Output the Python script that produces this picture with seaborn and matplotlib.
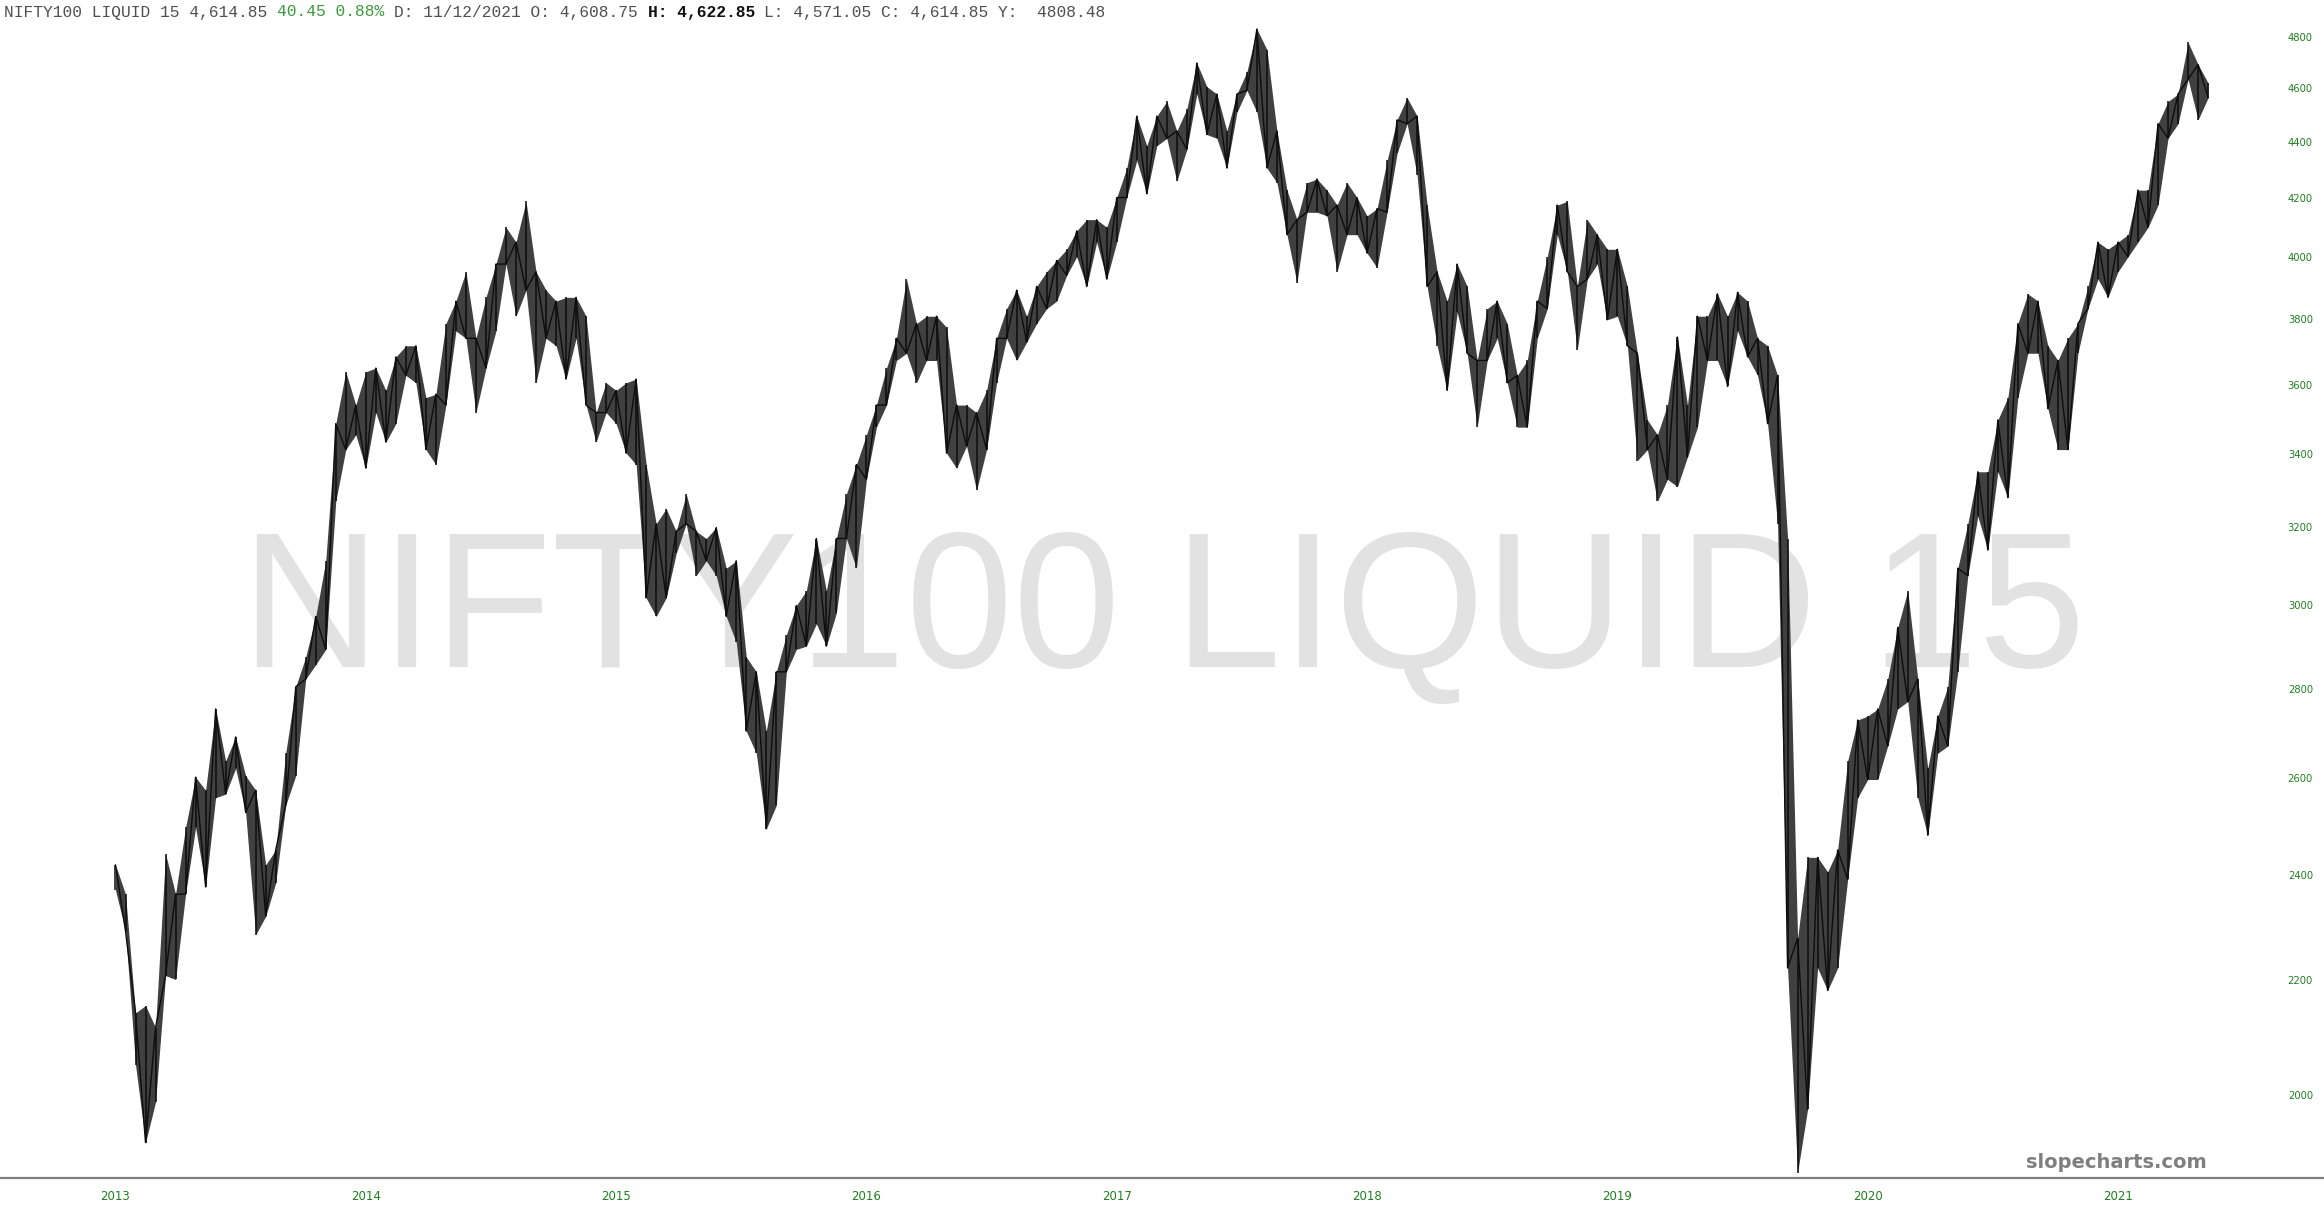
import numpy as np
import pandas as pd
import seaborn as sns
import matplotlib.pyplot as plt

# one bar roughly every two weeks, high / low
HIGH = [
    2420, 2362, 2141, 2154, 2115, 2442, 2362, 2496, 2602, 2574, 2753, 2637, 2690, 2605,
    2574, 2420, 2450, 2654, 2804, 2874, 2972, 3112, 3486, 3639, 3540, 3639, 3650, 3583,
    3684, 3718, 3718, 3562, 3572, 3787, 3858, 3953, 3741, 3870, 3978, 4101, 4051, 4190,
    3953, 3893, 3858, 3870, 3870, 3810, 3518, 3606, 3583, 3606, 3617, 3370, 3209, 3249,
    3189, 3289, 3189, 3170, 3199, 3093, 3112, 2874, 2839, 2703, 2839, 2927, 2999, 3036,
    3170, 3036, 3170, 3289, 3370, 3454, 3540, 3650, 3741, 3929, 3787, 3810, 3810, 3775,
    3540, 3540, 3518, 3583, 3741, 3834, 3893, 3810, 3905, 3953, 3990, 4027, 4089, 4127,
    4127, 4101, 4203, 4307, 4496, 4387, 4496, 4551, 4441, 4523, 4698, 4607, 4579, 4441,
    4579, 4664, 4832, 4750, 4441, 4229, 4127, 4255, 4268, 4229, 4177, 4255, 4203, 4140,
    4165, 4334, 4482, 4565, 4496, 4177, 3953, 3858, 3978, 3905, 3673, 3834, 3858, 3787,
    3628, 3673, 3858, 4002, 4177, 4190, 3905, 4127, 4076, 4027, 4027, 3905, 3695, 3497,
    3454, 3540, 3745, 3540, 3810, 3810, 3881, 3810, 3886, 3858, 3741, 3718, 3628, 3170,
    2277, 2435, 2435, 2406, 2450, 2637, 2728, 2737, 2753, 2822, 2945, 3036, 2822, 2621,
    2737, 2804, 3093, 3209, 3350, 3350, 3497, 3562, 3787, 3881, 3858, 3718, 3673, 3741,
    3787, 3905, 4051, 4027, 4051, 4076, 4229, 4229, 4468, 4551, 4579, 4779, 4692, 4621,
]
LOW = [
    2370, 2291, 2051, 1923, 1989, 2208, 2201, 2362, 2496, 2376, 2558, 2566, 2621, 2527,
    2284, 2319, 2384, 2542, 2605, 2822, 2856, 2892, 3269, 3412, 3454, 3360, 3518, 3433,
    3486, 3628, 3606, 3412, 3370, 3540, 3764, 3741, 3518, 3650, 3764, 3978, 3810, 3893,
    3606, 3741, 3718, 3617, 3741, 3540, 3433, 3518, 3486, 3402, 3370, 3018, 2972, 3018,
    3131, 3209, 3074, 3112, 3074, 2972, 2909, 2703, 2654, 2493, 2542, 2839, 2892, 2900,
    2954, 2900, 2981, 3170, 3093, 3329, 3476, 3540, 3673, 3695, 3606, 3673, 3673, 3402,
    3360, 3422, 3299, 3412, 3606, 3741, 3673, 3729, 3787, 3834, 3858, 3941, 4002, 3905,
    4051, 3929, 4051, 4203, 4334, 4216, 4387, 4414, 4260, 4374, 4579, 4428, 4414, 4307,
    4510, 4593, 4510, 4307, 4255, 4076, 3917, 4152, 4152, 4140, 3953, 4076, 4076, 4014,
    3966, 4152, 4360, 4468, 4281, 3905, 3718, 3583, 3822, 3695, 3476, 3673, 3741, 3606,
    3476, 3476, 3741, 3834, 4076, 3953, 3706, 3929, 3978, 3799, 3810, 3718, 3381, 3412,
    3269, 3329, 3309, 3391, 3476, 3673, 3673, 3595, 3764, 3684, 3628, 3486, 3209, 2222,
    1876, 1977, 2222, 2181, 2222, 2391, 2558, 2597, 2597, 2670, 2753, 2770, 2558, 2480,
    2654, 2670, 2839, 3074, 3229, 3140, 3350, 3279, 3562, 3695, 3695, 3529, 3412, 3412,
    3695, 3834, 3929, 3870, 3953, 4002, 4051, 4101, 4177, 4414, 4468, 4635, 4482, 4565,
]
FIRST_YEAR = 2013
BARS_PER_YEAR = 25
YEARS = [2013, 2014, 2015, 2016, 2017, 2018, 2019, 2020, 2021]
PRICE_TICKS = [2000, 2200, 2400, 2600, 2800, 3000, 3200, 3400, 3600, 3800,
               4000, 4200, 4400, 4600, 4800]

TITLE = "NIFTY100 LIQUID 15"
HEADER = [
    ("NIFTY100 LIQUID 15 4,614.85 ", "#505050", "normal"),
    ("40.45 0.88%", "#3c9a3c", "normal"),
    (" D: 11/12/2021 O: 4,608.75 ", "#505050", "normal"),
    ("H: 4,622.85", "#111111", "bold"),
    (" L: 4,571.05 C: 4,614.85 Y:  4808.48", "#505050", "normal"),
]

GREEN = "#1f801f"
W, H = 2324, 1218

sns.set_theme(style="white")
plt.rcParams["font.family"] = ["DejaVu Sans"]

df = pd.DataFrame({"high": HIGH, "low": LOW})
df["t"] = FIRST_YEAR + np.arange(len(df)) / BARS_PER_YEAR
# path that swings between the bar extremes, like a dense run of daily bars
df["swing"] = np.where(np.arange(len(df)) % 2 == 0, df["high"], df["low"])

fig = plt.figure(figsize=(W / 100, H / 100), dpi=100)
ax = fig.add_axes([0, 40 / H, 1, 1 - 40 / H])

ax.fill_between(df["t"], df["low"], df["high"], color="#404040", lw=0, zorder=2)
ax.vlines(df["t"], df["low"], df["high"], color="#0d0d0d", lw=1.1, zorder=3)
sns.lineplot(data=df, x="t", y="swing", ax=ax, color="#0d0d0d", lw=1.0, zorder=3)

ax.set_yscale("log")
ax.set_ylim(1867.6, 4949.4)
ax.set_xlim(2012.5386, 2021.823)

ax.set_yticks(PRICE_TICKS)
ax.set_yticklabels([str(v) for v in PRICE_TICKS])
ax.yaxis.set_minor_locator(plt.NullLocator())
ax.yaxis.tick_right()
ax.tick_params(axis="y", length=0, pad=-8, labelsize=7.2, labelcolor=GREEN)
for lab in ax.get_yticklabels():
    lab.set_horizontalalignment("right")

ax.set_xticks(YEARS)
ax.set_xticklabels([str(y) for y in YEARS],
                   fontfamily=["Liberation Sans Narrow", "DejaVu Sans"])
ax.tick_params(axis="x", length=0, pad=9, labelsize=8.5, labelcolor=GREEN)
ax.set_xlabel("")
ax.set_ylabel("")

for side in ["top", "left", "right"]:
    ax.spines[side].set_visible(False)
ax.spines["bottom"].set_color("#808080")
ax.spines["bottom"].set_linewidth(1.6)

# watermark behind the bars
ax.text(0.5006, 0.4524, TITLE, transform=fig.transFigure, ha="center", va="baseline",
        fontsize=139, color="#e2e2e2", family=["Liberation Sans", "DejaVu Sans"], zorder=0)

ax.text(2207 / W, 1 - 1168 / H, "slopecharts.com", transform=fig.transFigure,
        ha="right", va="baseline", fontsize=14, fontweight="bold", color="#7f7f7f",
        zorder=5)

# header line, drawn piece by piece in a monospace font
rend = fig.canvas.get_renderer()
probe = fig.text(0, 0, "0" * 40, fontsize=11.7, family="Liberation Mono")
cw = probe.get_window_extent(rend).width / 40
probe.remove()
col = 0
for seg, color, weight in HEADER:
    lead = len(seg) - len(seg.lstrip())
    fig.text((4 + (col + lead) * cw) / W, 1 - 12 / H, seg.strip(), fontsize=11.7,
             family="Liberation Mono", color=color, fontweight=weight, va="center")
    col += len(seg)

fig.savefig("out.png", dpi=100, facecolor="white")
